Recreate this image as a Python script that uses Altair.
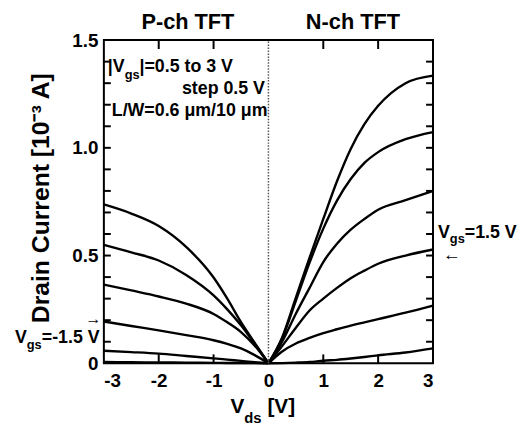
import altair as alt
import pandas as pd

vgs_labels = ["3.0", "2.5", "2.0", "1.5", "1.0", "0.5"]

vds_n = [0, 0.25, 0.5, 0.75, 1.0, 1.25, 1.5, 1.75, 2.0, 2.5, 3.0]
id_n_30 = [0, 0.12, 0.305, 0.49, 0.67, 0.845, 0.995, 1.11, 1.195, 1.30, 1.335]
id_n_25 = [0, 0.115, 0.29, 0.467, 0.625, 0.755, 0.855, 0.93, 0.98, 1.04, 1.073]
id_n_20 = [0, 0.10, 0.23, 0.35, 0.47, 0.555, 0.62, 0.67, 0.713, 0.757, 0.80]
id_n_15 = [0, 0.08, 0.165, 0.245, 0.30, 0.35, 0.395, 0.43, 0.462, 0.50, 0.528]
id_n_10 = [0, 0.055, 0.092, 0.118, 0.14, 0.158, 0.175, 0.19, 0.205, 0.235, 0.268]
id_n_05 = [0, 0.001, 0.003, 0.006, 0.012, 0.016, 0.022, 0.029, 0.037, 0.05, 0.069]

vds_p = [-3, -2.5, -2, -1.5, -1, -0.75, -0.5, -0.25, 0]
id_p_30 = [0.737, 0.695, 0.637, 0.54, 0.398, 0.30, 0.191, 0.095, 0]
id_p_25 = [0.55, 0.515, 0.477, 0.41, 0.315, 0.25, 0.176, 0.09, 0]
id_p_20 = [0.365, 0.338, 0.31, 0.277, 0.229, 0.19, 0.145, 0.082, 0]
id_p_15 = [0.194, 0.173, 0.153, 0.131, 0.107, 0.09, 0.069, 0.038, 0]
id_p_10 = [0.058, 0.052, 0.045, 0.034, 0.023, 0.017, 0.011, 0.005, 0]
id_p_05 = [0.006, 0.005, 0.004, 0.003, 0.002, 0.0015, 0.001, 0.0005, 0]

x_tick_labels = [-3, -2, -1, 0, 1, 2, 3]
y_tick_labels = [0, 0.5, 1.0, 1.5]
x_minor_ticks = [-2, -1, 1, 2]
y_minor_ticks = [0.1, 0.2, 0.3, 0.4, 0.5, 0.6, 0.7, 0.8, 0.9, 1.0, 1.1, 1.2, 1.3, 1.4]

rows = []
for lab, vals in zip(vgs_labels, [id_n_30, id_n_25, id_n_20, id_n_15, id_n_10, id_n_05]):
    for x, y in zip(vds_n, vals):
        rows.append({"kind": "curve", "curve": "N" + lab, "vds": x, "ids": y})
for lab, vals in zip(vgs_labels, [id_p_30, id_p_25, id_p_20, id_p_15, id_p_10, id_p_05]):
    for x, y in zip(vds_p, vals):
        rows.append({"kind": "curve", "curve": "P" + lab, "vds": x, "ids": y})

FONT = "Liberation Sans"
W, H = 333, 327
XMIN, XMAX, YMIN, YMAX = -3, 3, 0, 1.5
ylen = 7 * (XMAX - XMIN) / W
xlen = 9 * (YMAX - YMIN) / H
for t in y_minor_ticks:
    rows.append({"kind": "tick", "curve": "tl%s" % t, "vds": XMIN, "ids": t, "vds2": XMIN + ylen, "ids2": t})
    rows.append({"kind": "tick", "curve": "tr%s" % t, "vds": XMAX, "ids": t, "vds2": XMAX - ylen, "ids2": t})
for t in x_minor_ticks:
    rows.append({"kind": "tick", "curve": "tb%s" % t, "vds": t, "ids": YMIN, "vds2": t, "ids2": YMIN + xlen})
    rows.append({"kind": "tick", "curve": "tt%s" % t, "vds": t, "ids": YMAX, "vds2": t, "ids2": YMAX - xlen})
rows.append({"kind": "zero", "curve": "z", "vds": 0, "ids": YMIN, "vds2": 0, "ids2": YMAX})
df = pd.DataFrame(rows)

xs = alt.Scale(domain=[XMIN, XMAX], nice=False, zero=False)
ys = alt.Scale(domain=[YMIN, YMAX], nice=False)
xaxis = alt.Axis(
    values=x_tick_labels, labelExpr="datum.value + ''", ticks=False, domain=False,
    grid=False, title=None, labelFontSize=19, labelFontWeight="bold", labelFont=FONT,
    labelColor="black", labelPadding=9)
yaxis = alt.Axis(
    values=y_tick_labels, labelExpr="datum.value == 0 ? '0' : format(datum.value, '.1f')",
    ticks=False, domain=False, grid=False, title=None, labelFontSize=19,
    labelFontWeight="bold", labelFont=FONT, labelColor="black", labelPadding=6)

base = alt.Chart(df)
lines = base.transform_filter(alt.datum.kind == "curve").mark_line(
    color="black", strokeWidth=2.4, interpolate="monotone").encode(
    x=alt.X("vds:Q", scale=xs, axis=xaxis),
    y=alt.Y("ids:Q", scale=ys, axis=yaxis),
    detail="curve:N",
)
zero_line = base.transform_filter(alt.datum.kind == "zero").mark_rule(
    color="#555555", strokeWidth=1.5, strokeDash=[1.5, 1.5]).encode(
    x=alt.X("vds:Q", scale=xs, axis=xaxis), x2="vds2:Q",
    y=alt.Y("ids:Q", scale=ys, axis=yaxis), y2="ids2:Q")
ticks = base.transform_filter(alt.datum.kind == "tick").mark_rule(
    color="black", strokeWidth=2).encode(
    x=alt.X("vds:Q", scale=xs, axis=xaxis), x2="vds2:Q",
    y=alt.Y("ids:Q", scale=ys, axis=yaxis), y2="ids2:Q")

dummy = pd.DataFrame({"a": [0]})


def txt(s, x, y, size, align="left", angle=0):
    return alt.Chart(dummy).mark_text(
        text=s, font=FONT, fontWeight="bold", fontSize=size, align=align,
        baseline="middle", angle=angle, color="black").encode(
        x=alt.value(x), y=alt.value(y))


texts = [
    txt("P-ch TFT", 85, -18, 22, "center"),
    txt("N-ch TFT", 252, -18, 22, "center"),
    txt("|V", 4, 27, 18),
    txt("gs", 21, 35, 13),
    txt("|=0.5 to 3 V", 36, 27, 18),
    txt("step 0.5 V", 163, 50, 18, "right"),
    txt("L/W=0.6 μm/10 μm", 8, 72, 18),
    txt("V", -90, 301, 18),
    txt("gs", -78, 309, 13),
    txt("=-1.5 V", -62.8, 301, 18),
    txt("→", -10.5, 282, 16, "center"),
    txt("V", 338, 195, 18),
    txt("gs", 350, 201, 13),
    txt("=1.5 V", 365.2, 195, 18),
    txt("←", 352, 217, 18, "center"),
    txt("V", 128, 371.5, 21),
    txt("ds", 142, 382, 15),
    txt("[V]", 165.5, 371.5, 21),
    txt("Drain Current [10⁻³ A]", -63.5, 160, 25, "center", 270),
]

chart = alt.layer(lines, zero_line, ticks, *texts).properties(
    width=W, height=H,
    autosize=alt.AutoSizeParams(type="none"),
    padding={"left": 97, "top": 30, "right": 85, "bottom": 62},
).configure_view(stroke="black", strokeWidth=2)

chart.save("out.html", embed_options={"renderer": "svg", "actions": False})
